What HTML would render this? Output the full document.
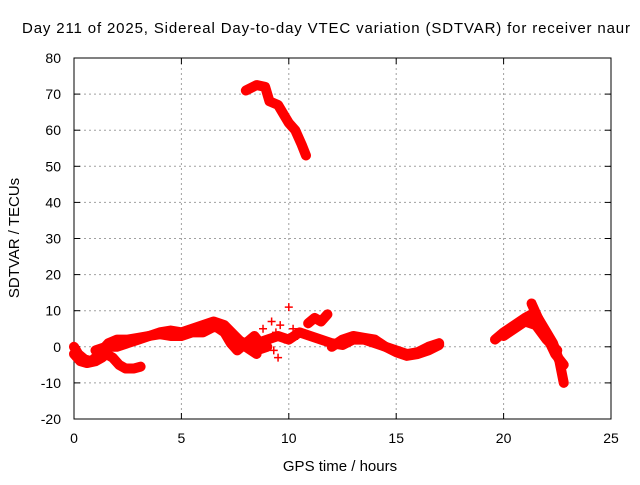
<!DOCTYPE html>
<html><head><meta charset="utf-8"><style>
body{margin:0;background:#fff}
svg text{font-family:"Liberation Sans",sans-serif;font-size:14px;fill:#000}
</style></head><body>
<svg id="chart" width="640" height="480" xmlns="http://www.w3.org/2000/svg">
<text x="22" y="33" textLength="608" lengthAdjust="spacing" style="font-size:15px">Day 211 of 2025, Sidereal Day-to-day VTEC variation (SDTVAR) for receiver naur</text>
<g id="grid"></g>
<g id="axes"></g>
<g id="marks"></g>
<text x="340" y="471" text-anchor="middle" style="font-size:15px">GPS time / hours</text>
<text transform="translate(19,238) rotate(-90)" text-anchor="middle" style="font-size:15px">SDTVAR / TECUs</text>
</svg>
<script>
const xTicks=[0,5,10,15,20,25];
const yTicks=[-20,-10,0,10,20,30,40,50,60,70,80];
const trackA=[[0,0],[0.2,-2],[0.5,-3.5],[0.8,-4],[1.0,-3],[1.3,-1],[1.6,1],[2.0,2],[2.5,2],[3.0,2.5],[3.5,3],[4,4],[4.5,4.5],[5,4],[5.5,5],[6,6],[6.5,7],[7,6],[7.5,3],[8,0],[8.5,-2]];
const trackB=[[0,-2],[0.3,-4],[0.6,-4.5],[1,-4],[1.3,-3],[1.5,-2],[1.8,-3],[2.1,-5],[2.4,-6],[2.8,-6],[3.1,-5.5]];
const trackC=[[1,-1],[1.5,0],[2,0],[2.5,1],[3,2],[3.5,3],[4,3.5],[4.5,3],[5,3],[5.5,4],[6,4],[6.5,5.5],[7,5],[7.5,2],[8,1],[8.5,-1],[9,0]];
const trackD=[[8.5,1],[9,2],[9.5,3],[10,2],[10.5,4],[11,3],[11.5,2],[12,1],[12.5,0.5],[13,2],[13.5,2],[14,1],[14.5,0],[15,-1],[15.5,-2],[16,-1.5],[16.5,0],[17,1]];
const trackE=[[12,0],[12.5,2],[13,3],[13.5,2.5],[14,2],[14.5,0],[15,-1.5],[15.5,-2.5],[16,-2],[16.5,-1],[17,0.5]];
const trackF=[[10.9,6.5],[11.2,8],[11.5,7],[11.8,9]];
const trackH=[[6.5,6],[7,4],[7.3,1],[7.6,-1],[8,1],[8.4,3],[8.8,0]];
const scatterG=[[8.8,5],[9.2,7],[9.4,4],[9.6,6],[9.8,2],[10,11],[10.2,5],[9.3,-1],[9.5,-3],[10.4,3]];
const trackUp=[[8,71],[8.5,72.5],[8.9,72],[9.1,68],[9.5,67],[9.8,64],[10,62],[10.3,60],[10.6,56],[10.8,53]];
const trackR1=[[19.6,2],[20,4],[20.5,6],[21,8],[21.3,9],[21.6,8],[22,4],[22.3,1],[22.6,-4],[22.8,-10]];
const trackR2=[[21.3,12],[21.6,8],[22,3],[22.4,-2],[22.8,-5]];
const trackR3=[[20,3],[20.5,5],[21,7],[21.5,6],[22,2],[22.5,-1]];
const series=[trackA,trackB,trackC,trackD,trackE,trackF,trackH,trackUp,trackR1,trackR2,trackR3];
const L=74,R=611,T=58,B=419;
const sx=v=>L+(v-0)/25*(R-L);
const sy=v=>B-(v+20)/100*(B-T);
const NS='http://www.w3.org/2000/svg';
function mk(tag,attrs,parent){const e=document.createElementNS(NS,tag);for(const k in attrs)e.setAttribute(k,attrs[k]);parent.appendChild(e);return e;}
const grid=document.getElementById('grid'),axes=document.getElementById('axes'),marks=document.getElementById('marks');
xTicks.forEach(t=>{
 if(t>0&&t<25){const g=mk('line',{x1:sx(t),x2:sx(t),y1:T,y2:B,stroke:'#a0a0a0','stroke-dasharray':'2,3'},grid);
 
 }
 mk('line',{x1:sx(t),x2:sx(t),y1:B,y2:B-6,stroke:'#000'},axes);
 mk('line',{x1:sx(t),x2:sx(t),y1:T,y2:T+6,stroke:'#000'},axes);
 const tx=mk('text',{x:sx(t),y:B+24,'text-anchor':'middle'},axes);tx.textContent=t;
 
 
});
yTicks.forEach(t=>{
 if(t>-20&&t<80){const g=mk('line',{x1:L,x2:R,y1:sy(t),y2:sy(t),stroke:'#a0a0a0','stroke-dasharray':'2,3'},grid);
 
 }
 mk('line',{x1:L,x2:L+6,y1:sy(t),y2:sy(t),stroke:'#000'},axes);
 mk('line',{x1:R,x2:R-6,y1:sy(t),y2:sy(t),stroke:'#000'},axes);
 const tx=mk('text',{x:L-13,y:sy(t)+5,'text-anchor':'end'},axes);tx.textContent=t;
 
 
});
mk('rect',{x:L,y:T,width:R-L,height:B-T,fill:'none',stroke:'#000'},axes);
function plus(x,y,name){const p=mk('path',{d:`M${x-4},${y}h8M${x},${y-4}v8`,stroke:'#f00','stroke-width':1.5},marks);
 
 }
series.forEach((s,i)=>{
 const pl=mk('polyline',{points:s.map(p=>sx(p[0])+','+sy(p[1])).join(' '),fill:'none',stroke:'#f00','stroke-width':10,'stroke-linejoin':'round','stroke-linecap':'round'},marks);
 
 
 s.forEach(p=>plus(sx(p[0]),sy(p[1]),'data-point'));
});
scatterG.forEach(p=>plus(sx(p[0]),sy(p[1]),'scatter-point'));
</script>
</body></html>
